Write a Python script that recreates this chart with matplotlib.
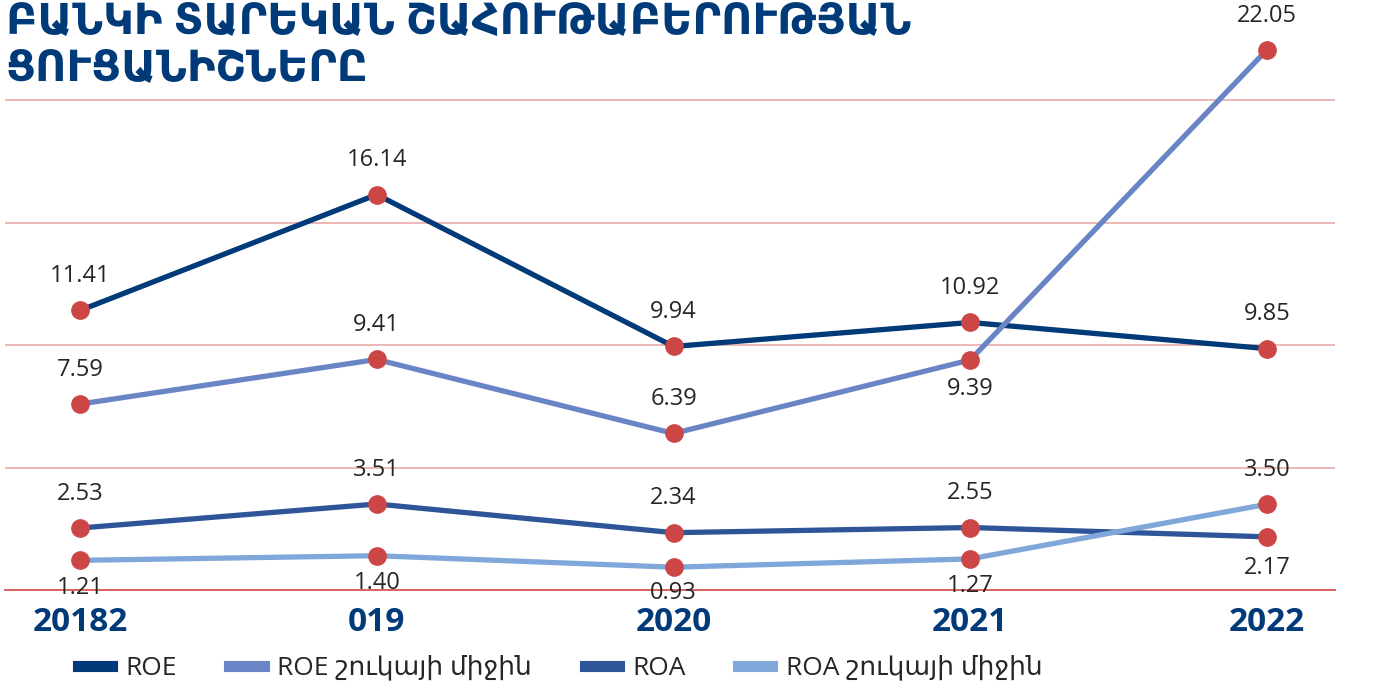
import matplotlib
matplotlib.use("Agg")
import matplotlib.pyplot as plt
from matplotlib.lines import Line2D

# Data
years = ["20182", "019", "2020", "2021", "2022"]
roe = [11.41, 16.14, 9.94, 10.92, 9.85]
roe_market = [7.59, 9.41, 6.39, 9.39, 22.05]
roa = [2.53, 3.51, 2.34, 2.55, 2.17]
roa_market = [1.21, 1.40, 0.93, 1.27, 3.50]

series_names = ["ROE", "ROE շուկայի միջին", "ROA", "ROA շուկայի միջին"]
title = "ԲԱՆԿԻ ՏԱՐԵԿԱՆ ՇԱՀՈՒԹԱԲԵՐՈՒԹՅԱՆ\nՑՈՒՑԱՆԻՇՆԵՐԸ"

# label offset in points (dx, dy) relative to the point
label_offsets = {
    "ROE": [(0, 16), (0, 16), (0, 16), (0, 16), (0, 16)],
    "ROE շուկայի միջին": [(0, 16), (0, 16), (0, 16), (0, -12), (0, 16)],
    "ROA": [(0, 16), (0, 16), (0, 16), (0, 16), (0, -14)],
    "ROA շուկայի միջին": [(0, -11), (0, -11), (0, -10), (0, -11), (0, 16)],
}

palette = {
    "ROE": "#003a78",
    "ROE շուկայի միջին": "#6a85c6",
    "ROA": "#2d5597",
    "ROA շուկայի միջին": "#80a7d9",
}
marker_color = "#cc4646"
grid_color = "#e7a3a3"
axis_color = "#d96262"
title_color = "#003a78"

fonts = ["Open Sans", "Noto Sans", "DejaVu Sans"]
plt.rcParams["font.family"] = fonts

W, H = 1376, 686
fig = plt.figure(figsize=(W / 100, H / 100), dpi=100)
ax_left, ax_right = 5, 1335
ax_top, ax_bottom = 40, 590
ax = fig.add_axes([ax_left / W, 1 - ax_bottom / H,
                   (ax_right - ax_left) / W, (ax_bottom - ax_top) / H])

px_per_cat = (1267 - 80) / 4
ax.set_xlim(-(80 - ax_left) / px_per_cat, 4 + (ax_right - 1267) / px_per_cat)
ax.set_ylim(0, (ax_bottom - ax_top) / 24.5)

x = list(range(len(years)))
all_series = [roe, roe_market, roa, roa_market]
for name, vals in zip(series_names, all_series):
    ax.plot(x, vals, color=palette[name], lw=3.8, solid_capstyle="round",
            zorder=3, clip_on=False)
    ax.plot(x, vals, "o", ms=13.5, color=marker_color, mew=0,
            zorder=4, clip_on=False)
    for xi, v, (dx, dy) in zip(x, vals, label_offsets[name]):
        ax.annotate(f"{v:.2f}", (xi, v), xytext=(dx, dy),
                    textcoords="offset points", ha="center",
                    va="bottom" if dy > 0 else "top",
                    fontsize=17, color="#262626", zorder=5)

ax.set_yticks([5, 10, 15, 20])
ax.yaxis.grid(True, color=grid_color, lw=1.1)
ax.set_axisbelow(True)
ax.tick_params(axis="y", left=False, labelleft=False)
for s in ["top", "right", "left"]:
    ax.spines[s].set_visible(False)
ax.spines["bottom"].set_color(axis_color)
ax.spines["bottom"].set_linewidth(1.4)

ax.set_xticks(x)
ax.set_xticklabels(years, fontsize=24, fontweight="bold", color=title_color)
ax.tick_params(axis="x", bottom=False, pad=8)

fig.text(6 / W, 1 - 1 / H, title, fontsize=31, fontweight="bold",
         color=title_color, va="top", ha="left", linespacing=1.05,
         family=["Noto Sans", "DejaVu Sans"])

handles = [Line2D([0], [0], color=palette[n], lw=8) for n in series_names]
leg = fig.legend(handles, series_names, loc="center", ncol=4,
                 bbox_to_anchor=(560 / W, 1 - 668 / H), frameon=False,
                 prop={"size": 19, "family": fonts},
                 handlelength=1.3, columnspacing=2.0, handletextpad=0.5)
for t in leg.get_texts():
    t.set_color("#262626")

fig.savefig("out.png", dpi=100)
